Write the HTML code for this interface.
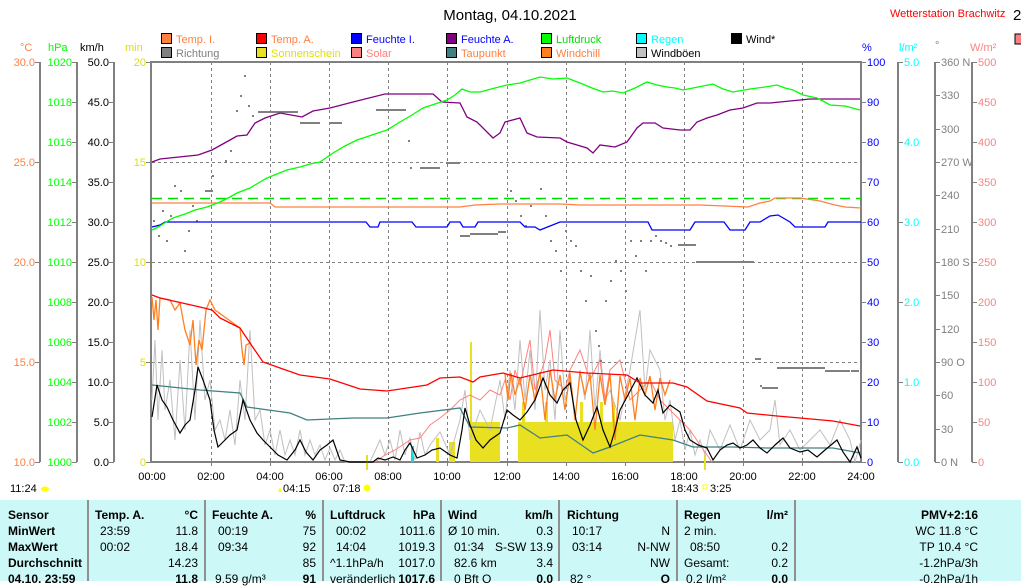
<!DOCTYPE html>
<html><head><meta charset="utf-8"><style>
body{margin:0;background:#fff;width:1021px;height:581px;overflow:hidden;position:relative;font-family:"Liberation Sans",sans-serif}
svg{position:absolute;left:0;top:0}
.tb{position:absolute;left:0;top:500px;width:1021px;height:81px;background:#ccf8f8;font-size:12px;color:#000}
.tb span{position:absolute;white-space:nowrap;line-height:14px}
.b{font-weight:bold}
.vd{position:absolute;top:0;height:81px;width:2px;background:#909090}
</style></head><body>
<svg width="1021" height="500" font-family="Liberation Sans, sans-serif" font-size="11">
<text x="510" y="20" text-anchor="middle" font-size="15">Montag, 04.10.2021</text>
<text x="890" y="17" fill="#ff0000" font-size="11">Wetterstation Brachwitz</text>
<text x="1013" y="20" font-size="15">2</text>
<rect x="1015" y="34" width="8" height="10" fill="#ff8080" stroke="#000"/>
<!-- legend -->
<g stroke="#000" stroke-width="1">
<rect x="161.5" y="33.5" width="10" height="10" fill="#ff8040"/>
<rect x="256.5" y="33.5" width="10" height="10" fill="#ff0000"/>
<rect x="351.5" y="33.5" width="10" height="10" fill="#0000ff"/>
<rect x="446.5" y="33.5" width="10" height="10" fill="#800080"/>
<rect x="541.5" y="33.5" width="10" height="10" fill="#00ff00"/>
<rect x="636.5" y="33.5" width="10" height="10" fill="#00ffff"/>
<rect x="731.5" y="33.5" width="10" height="10" fill="#000"/>
<rect x="161.5" y="47.5" width="10" height="10" fill="#808080"/>
<rect x="256.5" y="47.5" width="10" height="10" fill="#e8e020"/>
<rect x="351.5" y="47.5" width="10" height="10" fill="#ff8080"/>
<rect x="446.5" y="47.5" width="10" height="10" fill="#408080"/>
<rect x="541.5" y="47.5" width="10" height="10" fill="#ff8020"/>
<rect x="636.5" y="47.5" width="10" height="10" fill="#c0c0c0"/>
</g>
<text x="176" y="43" fill="#ff8040">Temp. I.</text>
<text x="271" y="43" fill="#ff8040">Temp. A.</text>
<text x="366" y="43" fill="#0000ff">Feuchte I.</text>
<text x="461" y="43" fill="#0000ff">Feuchte A.</text>
<text x="556" y="43" fill="#00e000">Luftdruck</text>
<text x="651" y="43" fill="#00ffff">Regen</text>
<text x="746" y="43" fill="#000">Wind*</text>
<text x="176" y="57" fill="#808080">Richtung</text>
<text x="271" y="57" fill="#e0e000">Sonnenschein</text>
<text x="366" y="57" fill="#ff8080">Solar</text>
<text x="461" y="57" fill="#ff8040">Taupunkt</text>
<text x="556" y="57" fill="#ff8040">Windchill</text>
<text x="651" y="57" fill="#000">Windböen</text>
<!-- unit labels -->
<text x="20" y="51" fill="#ff8040">°C</text>
<text x="48" y="51" fill="#00ff00">hPa</text>
<text x="80" y="51" fill="#000">km/h</text>
<text x="125" y="51" fill="#e0e000">min</text>
<text x="862" y="51" fill="#0000ff">%</text>
<text x="899" y="51" fill="#00ffff">l/m²</text>
<text x="935" y="49" fill="#808080">°</text>
<text x="970" y="51" fill="#ff8080">W/m²</text>
<!-- grid -->
<g stroke="#808080" stroke-dasharray="3,3" stroke-width="1">
<path d="M211.5 62V462M270.5 62V462M329.5 62V462M388.5 62V462M447.5 62V462M507.5 62V462M566.5 62V462M625.5 62V462M684.5 62V462M743.5 62V462M802.5 62V462"/>
<path d="M152 162.5H861M152 262.5H861M152 362.5H861"/>
</g>
<!-- axes lines -->
<g stroke="#808080" stroke-width="2" fill="none">
<path d="M40 62V462M77 62V462M114 62V462M898 62V462M935 62V462M972 62V462"/>
<path d="M151 61V463M150 62H862M861 61V463M150 462H862"/>
</g>
<g stroke="#808080" stroke-width="1">
<path d="M35 62.5h5M35 162.5h5M35 262.5h5M35 362.5h5M35 462.5h5"/>
<path d="M72 62.5h5M72 102.5h5M72 142.5h5M72 182.5h5M72 222.5h5M72 262.5h5M72 302.5h5M72 342.5h5M72 382.5h5M72 422.5h5M72 462.5h5"/>
<path d="M109 62.5h5M109 102.5h5M109 142.5h5M109 182.5h5M109 222.5h5M109 262.5h5M109 302.5h5M109 342.5h5M109 382.5h5M109 422.5h5M109 462.5h5"/>
<path d="M146 62.5h5M146 162.5h5M146 262.5h5M146 362.5h5M146 462.5h5"/>
<path d="M861 62.5h5M861 102.5h5M861 142.5h5M861 182.5h5M861 222.5h5M861 262.5h5M861 302.5h5M861 342.5h5M861 382.5h5M861 422.5h5M861 462.5h5"/>
<path d="M898 62.5h5M898 142.5h5M898 222.5h5M898 302.5h5M898 382.5h5M898 462.5h5"/>
<path d="M935 62.5h5M935 95.5h5M935 129.5h5M935 162.5h5M935 195.5h5M935 229.5h5M935 262.5h5M935 295.5h5M935 329.5h5M935 362.5h5M935 395.5h5M935 429.5h5M935 462.5h5"/>
<path d="M972 62.5h5M972 102.5h5M972 142.5h5M972 182.5h5M972 222.5h5M972 262.5h5M972 302.5h5M972 342.5h5M972 382.5h5M972 422.5h5M972 462.5h5"/>
<path d="M211.5 462v4M270.5 462v4M329.5 462v4M388.5 462v4M447.5 462v4M507.5 462v4M566.5 462v4M625.5 462v4M684.5 462v4M743.5 462v4M802.5 462v4"/>
</g>
<!-- left labels -->
<g fill="#ff8040" text-anchor="end">
<text x="35" y="66">30.0</text><text x="35" y="166">25.0</text><text x="35" y="266">20.0</text><text x="35" y="366">15.0</text><text x="35" y="466">10.0</text></g>
<g fill="#00ff00" text-anchor="end">
<text x="72" y="66">1020</text><text x="72" y="106">1018</text><text x="72" y="146">1016</text><text x="72" y="186">1014</text><text x="72" y="226">1012</text><text x="72" y="266">1010</text><text x="72" y="306">1008</text><text x="72" y="346">1006</text><text x="72" y="386">1004</text><text x="72" y="426">1002</text><text x="72" y="466">1000</text></g>
<g fill="#000" text-anchor="end">
<text x="109" y="66">50.0</text><text x="109" y="106">45.0</text><text x="109" y="146">40.0</text><text x="109" y="186">35.0</text><text x="109" y="226">30.0</text><text x="109" y="266">25.0</text><text x="109" y="306">20.0</text><text x="109" y="346">15.0</text><text x="109" y="386">10.0</text><text x="109" y="426">5.0</text><text x="109" y="466">0.0</text></g>
<g fill="#e0e000" text-anchor="end">
<text x="146" y="66">20</text><text x="146" y="166">15</text><text x="146" y="266">10</text><text x="146" y="366">5</text><text x="146" y="466">0</text></g>
<!-- right labels -->
<g fill="#0000ff">
<text x="867" y="66">100</text><text x="867" y="106">90</text><text x="867" y="146">80</text><text x="867" y="186">70</text><text x="867" y="226">60</text><text x="867" y="266">50</text><text x="867" y="306">40</text><text x="867" y="346">30</text><text x="867" y="386">20</text><text x="867" y="426">10</text><text x="867" y="466">0</text></g>
<g fill="#00ffff">
<text x="904" y="66">5.0</text><text x="904" y="146">4.0</text><text x="904" y="226">3.0</text><text x="904" y="306">2.0</text><text x="904" y="386">1.0</text><text x="904" y="466">0.0</text></g>
<g fill="#808080">
<text x="941" y="66">360 N</text><text x="941" y="99">330</text><text x="941" y="133">300</text><text x="941" y="166">270 W</text><text x="941" y="199">240</text><text x="941" y="233">210</text><text x="941" y="266">180 S</text><text x="941" y="299">150</text><text x="941" y="333">120</text><text x="941" y="366">90  O</text><text x="941" y="399">60</text><text x="941" y="433">30</text><text x="941" y="466">0   N</text></g>
<g fill="#ff8080">
<text x="978" y="66">500</text><text x="978" y="106">450</text><text x="978" y="146">400</text><text x="978" y="186">350</text><text x="978" y="226">300</text><text x="978" y="266">250</text><text x="978" y="306">200</text><text x="978" y="346">150</text><text x="978" y="386">100</text><text x="978" y="426">50</text><text x="978" y="466">0</text></g>
<!-- sunshine bars -->
<g fill="#e8e020">
<rect x="470" y="342" width="2" height="120"/>
<rect x="436" y="438" width="3" height="24"/>
<rect x="449" y="442" width="6" height="20"/>
<rect x="470" y="422" width="30" height="40"/>
<rect x="518" y="422" width="155" height="40"/>
<rect x="522" y="402" width="3" height="20"/><rect x="545" y="402" width="3" height="20"/><rect x="580" y="402" width="3" height="20"/><rect x="600" y="402" width="3" height="20"/><rect x="612" y="402" width="3" height="20"/>
<rect x="366" y="455" width="2" height="15"/><rect x="704" y="455" width="2" height="15"/>
</g>
<rect x="411" y="446" width="3" height="16" fill="#00e0e0"/>
<!-- gusts -->
<polyline fill="none" stroke="#c0c0c0" stroke-width="1" points="152,400 155,340 158,420 162,350 165,410 170,380 175,440 180,360 185,430 190,330 195,420 200,320 205,400 210,380 215,430 220,420 225,440 230,410 235,445 240,380 245,420 250,330 255,420 260,410 265,445 270,430 275,455 280,430 285,455 290,440 295,455 300,430 305,455 310,440 315,455 320,445 325,460 330,448 335,460 340,450 345,462 360,462 370,462 380,440 385,455 390,440 395,460 400,430 405,455 410,438 415,460 420,432 425,455 430,445 440,432 450,455 460,420 465,390 470,440 480,410 490,430 500,380 505,420 510,370 515,410 520,340 525,400 530,350 535,410 540,310 545,390 550,360 555,420 560,330 565,400 570,380 575,420 580,370 585,400 590,330 595,410 600,350 605,400 610,390 620,420 630,370 640,310 645,390 650,350 660,370 665,420 670,400 675,440 680,420 685,450 690,430 695,455 700,440 705,455 710,430 720,450 730,425 740,450 750,420 760,440 770,430 775,400 780,445 790,430 800,450 810,440 820,430 830,445 840,420 850,440 855,462 861,440"/>
<!-- solar -->
<polyline fill="none" stroke="#ff8080" stroke-width="1" points="375,462 385,455 395,450 410,440 420,438 430,425 440,418 450,410 460,400 470,395 480,400 490,390 500,395 505,380 510,400 515,370 520,385 530,340 535,390 545,360 550,330 555,380 565,390 570,370 580,350 590,380 600,360 605,400 610,370 620,360 630,400 640,390 650,380 660,400 670,410 680,420 690,430 700,445 705,452 712,462"/>
<!-- windchill spikes -->
<polyline fill="none" stroke="#ff8020" stroke-width="1.3" points="152,297 154,320 156,300 158,330 160,298 170,300 175,310 180,303 185,330 190,345 193,320 196,365 199,340 202,350 206,310 210,300 215,310 240,328 242,350 244,365 246,345 250,343"/>
<polyline fill="none" stroke="#ff8020" stroke-width="1.3" points="505,374 508,400 511,373 515,395 520,378 525,410 530,375 535,400 540,372 545,420 550,370 555,400 560,375 565,410 570,373 575,420 580,372 585,395 590,374 595,430 600,375 605,405 610,374 615,440 620,376 625,400 630,378 635,420 640,378 645,395 650,376 655,410 660,378 665,395 670,380"/>
<!-- direction dots -->
<g fill="#808080">
<rect x="153" y="220" width="2" height="2"/><rect x="158" y="235" width="2" height="2"/><rect x="162" y="210" width="2" height="2"/><rect x="166" y="240" width="2" height="2"/><rect x="170" y="215" width="2" height="2"/><rect x="174" y="185" width="2" height="2"/><rect x="180" y="190" width="2" height="2"/><rect x="184" y="250" width="2" height="2"/><rect x="188" y="230" width="2" height="2"/><rect x="192" y="205" width="2" height="2"/><rect x="196" y="220" width="2" height="2"/><rect x="205" y="190" width="8" height="2"/><rect x="212" y="175" width="2" height="2"/><rect x="225" y="160" width="2" height="2"/><rect x="230" y="150" width="2" height="2"/><rect x="236" y="110" width="2" height="2"/><rect x="240" y="95" width="2" height="2"/><rect x="244" y="75" width="2" height="2"/><rect x="248" y="105" width="2" height="2"/><rect x="252" y="115" width="2" height="2"/><rect x="258" y="111" width="40" height="2"/><rect x="300" y="122" width="20" height="2"/><rect x="330" y="122" width="12" height="2"/><rect x="376" y="109" width="30" height="2"/><rect x="408" y="140" width="2" height="2"/><rect x="410" y="167" width="2" height="2"/><rect x="420" y="167" width="20" height="2"/><rect x="446" y="162" width="14" height="2"/><rect x="460" y="235" width="10" height="2"/><rect x="470" y="233" width="28" height="2"/><rect x="498" y="231" width="8" height="2"/><rect x="510" y="190" width="2" height="2"/><rect x="515" y="200" width="2" height="2"/><rect x="520" y="215" width="2" height="2"/><rect x="525" y="225" width="2" height="2"/><rect x="530" y="205" width="2" height="2"/><rect x="540" y="188" width="2" height="2"/><rect x="545" y="215" width="2" height="2"/><rect x="550" y="240" width="2" height="2"/><rect x="555" y="250" width="2" height="2"/><rect x="560" y="270" width="2" height="2"/><rect x="565" y="230" width="2" height="2"/><rect x="570" y="240" width="2" height="2"/><rect x="575" y="245" width="2" height="2"/><rect x="580" y="270" width="2" height="2"/><rect x="585" y="300" width="2" height="2"/><rect x="590" y="275" width="2" height="2"/><rect x="595" y="330" width="2" height="2"/><rect x="598" y="345" width="2" height="2"/><rect x="600" y="360" width="2" height="2"/><rect x="605" y="300" width="2" height="2"/><rect x="610" y="280" width="2" height="2"/><rect x="615" y="260" width="2" height="2"/><rect x="620" y="270" width="2" height="2"/><rect x="625" y="290" width="2" height="2"/><rect x="630" y="240" width="2" height="2"/><rect x="635" y="255" width="2" height="2"/><rect x="640" y="240" width="2" height="2"/><rect x="645" y="270" width="2" height="2"/><rect x="650" y="240" width="2" height="2"/><rect x="655" y="235" width="2" height="2"/><rect x="660" y="240" width="2" height="2"/><rect x="665" y="242" width="2" height="2"/><rect x="670" y="245" width="2" height="2"/><rect x="678" y="244" width="18" height="2"/><rect x="696" y="261" width="58" height="2"/><rect x="755" y="358" width="6" height="2"/><rect x="760" y="385" width="2" height="2"/><rect x="762" y="387" width="16" height="2"/><rect x="777" y="367" width="48" height="2"/><rect x="825" y="370" width="25" height="2"/><rect x="851" y="370" width="8" height="2"/>
</g>
<!-- dew point -->
<polyline fill="none" stroke="#408080" stroke-width="1.3" points="152,385 200,390 240,393 247,407 290,413 307,420 353,418 387,418 420,413 460,408 470,427 507,428 520,425 540,438 567,435 593,453 610,447 640,435 673,440 693,447 733,447 767,448 833,448 860,453"/>
<!-- wind -->
<polyline fill="none" stroke="#000" stroke-width="1.2" points="152,417 157,385 162,400 167,407 173,420 180,433 185,425 190,420 195,390 198,367 203,380 210,400 214,430 218,447 225,440 230,435 237,430 243,400 250,420 257,433 263,440 270,447 278,455 287,460 295,450 300,440 306,452 313,460 320,450 327,445 333,440 340,460 350,462 373,462 378,458 385,460 393,457 400,460 405,450 410,443 417,458 425,455 432,450 440,448 450,455 457,458 462,430 465,408 470,425 476,440 483,448 490,440 500,433 507,410 513,415 520,420 527,412 535,400 543,378 550,395 557,403 563,390 570,383 576,420 583,440 590,425 597,407 603,430 610,447 615,430 620,410 628,395 637,378 645,395 653,403 658,390 663,413 670,405 680,412 685,430 690,440 698,445 707,448 713,460 720,450 727,445 733,443 740,448 747,445 753,440 760,448 767,453 775,445 783,438 790,448 800,452 808,450 817,457 825,450 837,440 843,452 850,462 857,447 861,458"/>
<!-- temp A -->
<polyline fill="none" stroke="#ff0000" stroke-width="1.3" points="152,295 160,298 200,307 212,310 220,318 240,328 250,343 263,362 280,368 300,375 330,379 360,389 387,391 427,385 440,378 460,377 473,382 480,377 503,373 520,378 553,370 587,373 627,375 640,383 673,383 687,387 707,401 740,408 747,413 777,416 800,418 833,421 860,426"/>
<!-- dashed green -->
<path d="M152 198.5H861" stroke="#00e000" stroke-width="1.5" stroke-dasharray="10,6"/>
<!-- temp I -->
<polyline fill="none" stroke="#ff8040" stroke-width="1.3" points="152,203 270,203 275,207 460,207 475,205 500,204 560,204 580,205 700,205 748,207 760,203 770,201 775,198 800,198 820,201 835,205 845,207 861,208"/>
<!-- humidity I -->
<polyline fill="none" stroke="#0000ff" stroke-width="1.3" points="152,227 160,225 165,222 366,222 370,227 378,227 380,222 412,222 416,227 447,227 450,222 460,222 463,227 475,227 478,222 520,222 525,227 535,227 540,230 560,222 648,222 652,230 690,230 695,222 724,222 730,230 745,230 750,222 760,222 770,216 778,215 790,222 795,227 825,227 828,222 861,222"/>
<!-- humidity A -->
<polyline fill="none" stroke="#800080" stroke-width="1.3" points="152,162 160,159 198,155 212,150 230,140 237,136 247,135 255,123 265,118 280,113 302,117 313,111 330,108 353,102 385,94 433,94 442,102 460,103 467,117 477,122 493,138 500,133 505,122 520,118 527,133 537,137 560,138 567,142 587,148 593,153 600,145 615,147 627,142 637,128 643,123 655,123 663,128 680,130 690,130 697,122 707,118 717,115 730,110 743,108 757,103 770,103 810,99 860,99"/>
<!-- pressure -->
<polyline fill="none" stroke="#00ff00" stroke-width="1.3" points="152,230 160,226 166,222 173,218 185,214 195,210 207,207 220,202 230,197 237,193 250,188 260,182 267,178 277,174 287,170 300,167 310,164 320,162 333,153 345,146 357,140 372,135 387,130 400,122 412,115 423,108 435,104 447,100 455,95 462,89 470,92 480,92 495,88 507,85 520,83 530,80 540,77 553,79 567,78 580,83 592,88 603,92 613,91 623,93 635,88 647,82 657,85 667,87 675,88 683,90 698,87 713,84 723,89 733,92 750,89 765,87 777,85 785,88 793,90 803,95 817,98 823,101 830,105 845,106 860,110"/>
<!-- time labels -->
<g text-anchor="middle" font-size="11">
<text x="152" y="480">00:00</text><text x="211" y="480">02:00</text><text x="270" y="480">04:00</text><text x="329" y="480">06:00</text><text x="388" y="480">08:00</text><text x="447" y="480">10:00</text><text x="507" y="480">12:00</text><text x="566" y="480">14:00</text><text x="625" y="480">16:00</text><text x="684" y="480">18:00</text><text x="743" y="480">20:00</text><text x="802" y="480">22:00</text><text x="861" y="480">24:00</text></g>
<text x="10" y="492">11:24</text><ellipse cx="45" cy="489" rx="4" ry="2.5" fill="#ffff00"/>
<text x="283" y="492">04:15</text><path d="M278 492l2-5 2 5z" fill="#ffff00"/>
<text x="333" y="492">07:18</text><circle cx="367" cy="488" r="3.5" fill="#ffff00"/>
<text x="671" y="492">18:43</text><rect x="703" y="485" width="4" height="4" fill="none" stroke="#ffff00"/><text x="710" y="492">3:25</text>
</svg>
<div class="tb">
<div class="vd" style="left:87px"></div><div class="vd" style="left:204px"></div><div class="vd" style="left:322px"></div><div class="vd" style="left:440px"></div><div class="vd" style="left:558px"></div><div class="vd" style="left:676px"></div><div class="vd" style="left:794px"></div>
<span class="b" style="left:8px;top:8px">Sensor</span>
<span class="b" style="left:8px;top:24px">MinWert</span>
<span class="b" style="left:8px;top:40px">MaxWert</span>
<span class="b" style="left:8px;top:56px">Durchschnitt</span>
<span class="b" style="left:8px;top:72px">04.10. 23:59</span>
<span class="b" style="left:95px;top:8px">Temp. A.</span><span class="b" style="right:823px;top:8px">°C</span>
<span style="left:100px;top:24px">23:59</span><span style="right:823px;top:24px">11.8</span>
<span style="left:100px;top:40px">00:02</span><span style="right:823px;top:40px">18.4</span>
<span style="right:823px;top:56px">14.23</span>
<span class="b" style="right:823px;top:72px">11.8</span>
<span class="b" style="left:212px;top:8px">Feuchte A.</span><span class="b" style="right:705px;top:8px">%</span>
<span style="left:218px;top:24px">00:19</span><span style="right:705px;top:24px">75</span>
<span style="left:218px;top:40px">09:34</span><span style="right:705px;top:40px">92</span>
<span style="right:705px;top:56px">85</span>
<span style="left:215px;top:72px">9.59 g/m³</span><span class="b" style="right:705px;top:72px">91</span>
<span class="b" style="left:330px;top:8px">Luftdruck</span><span class="b" style="right:586px;top:8px">hPa</span>
<span style="left:336px;top:24px">00:02</span><span style="right:586px;top:24px">1011.6</span>
<span style="left:336px;top:40px">14:04</span><span style="right:586px;top:40px">1019.3</span>
<span style="left:330px;top:56px">^1.1hPa/h</span><span style="right:586px;top:56px">1017.0</span>
<span style="left:330px;top:72px">veränderlich</span><span class="b" style="right:586px;top:72px">1017.6</span>
<span class="b" style="left:448px;top:8px">Wind</span><span class="b" style="right:468px;top:8px">km/h</span>
<span style="left:448px;top:24px">Ø 10 min.</span><span style="right:468px;top:24px">0.3</span>
<span style="left:454px;top:40px">01:34</span><span style="right:468px;top:40px">S-SW 13.9</span>
<span style="left:454px;top:56px">82.6 km</span><span style="right:468px;top:56px">3.4</span>
<span style="left:454px;top:72px">0 Bft O</span><span class="b" style="right:468px;top:72px">0.0</span>
<span class="b" style="left:567px;top:8px">Richtung</span>
<span style="left:572px;top:24px">10:17</span><span style="right:351px;top:24px">N</span>
<span style="left:572px;top:40px">03:14</span><span style="right:351px;top:40px">N-NW</span>
<span style="right:351px;top:56px">NW</span>
<span style="left:570px;top:72px">82 °</span><span class="b" style="right:351px;top:72px">O</span>
<span class="b" style="left:684px;top:8px">Regen</span><span class="b" style="right:233px;top:8px">l/m²</span>
<span style="left:684px;top:24px">2 min.</span>
<span style="left:690px;top:40px">08:50</span><span style="right:233px;top:40px">0.2</span>
<span style="left:684px;top:56px">Gesamt:</span><span style="right:233px;top:56px">0.2</span>
<span style="left:686px;top:72px">0.2 l/m²</span><span class="b" style="right:233px;top:72px">0.0</span>
<span class="b" style="right:43px;top:8px">PMV+2:16</span>
<span style="right:43px;top:24px">WC 11.8 °C</span>
<span style="right:43px;top:40px">TP 10.4 °C</span>
<span style="right:43px;top:56px">-1.2hPa/3h</span>
<span style="right:43px;top:72px">-0.2hPa/1h</span>
</div>
</body></html>
